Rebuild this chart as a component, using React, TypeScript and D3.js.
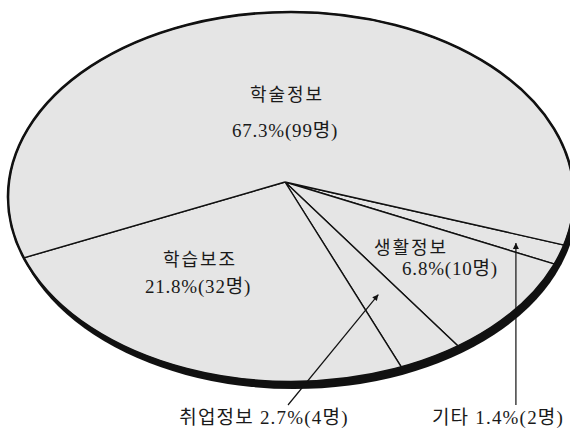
import React, { useEffect, useRef } from 'react';
import * as d3 from 'd3';

// slices in clockwise order, starting at the right-hand edge
const categories = ['기타', '생활정보', '취업정보', '학습보조', '학술정보'];
const counts = [2, 10, 4, 32, 99];
const percents = [1.4, 6.8, 2.7, 21.8, 67.3];

const W = 570;
const H = 434;

// the pie is drawn as a tilted disc (ellipse + a bit of perspective)
const cx = 291, cy = 197, rx = 283, ry = 185;
const hub = { x: 285, y: 182 };
const tilt = 0.15;
const tiltDir = (-30 * Math.PI) / 180;
const startAngle = (116 * Math.PI) / 180;

const FONT = "'Liberation Serif', 'Noto Sans CJK KR', serif";

// text placement (inside labels have two lines, outside ones have an arrow)
const insideLabels: Record<string, { x: number; y: number; x2: number; y2: number }> = {
    학술정보: { x: 287, y: 101, x2: 285, y2: 137 },
    학습보조: { x: 200, y: 266, x2: 198, y2: 293 },
    생활정보: { x: 411, y: 254, x2: 450, y2: 275 },
};
const outsideLabels: Record<string, { x: number; y: number; tail: [number, number] | null; t: number }> = {
    취업정보: { x: 264, y: 424, tail: [288, 405], t: 0.64 },
    기타: { x: 498, y: 424, tail: null, t: 0.84 },
};

const App = () => {
    const ref = useRef<SVGSVGElement>(null);

    useEffect(() => {
        const svg = d3.select(ref.current);
        svg.selectAll('*').remove();

        const k = (1 - tilt) / (1 + tilt);
        const rim = (theta: number): [number, number] => {
            let p = theta - tiltDir;
            p = Math.atan2(Math.sin(p), Math.cos(p));
            const q = 2 * Math.atan(k * Math.tan(p / 2)) + tiltDir;
            return [cx + rx * Math.sin(q), cy - ry * Math.cos(q)];
        };

        const data = categories.map((c, i) => ({ name: c, count: counts[i], pct: percents[i] }));
        const arcs = d3.pie<any>()
            .sort(null)
            .value(d => d.count)
            .startAngle(startAngle)
            .endAngle(startAngle + Math.PI * 2)(data);

        const defs = svg.append('defs');
        defs.append('marker')
            .attr('id', 'head')
            .attr('viewBox', '0 0 10 10')
            .attr('refX', 10)
            .attr('refY', 5)
            .attr('markerWidth', 12)
            .attr('markerHeight', 6)
            .attr('markerUnits', 'userSpaceOnUse')
            .attr('orient', 'auto')
            .append('path')
            .attr('d', 'M0,0 L10,5 L0,10 Z')
            .attr('fill', '#111');

        // heavy lower rim
        svg.append('ellipse')
            .attr('cx', cx + 3).attr('cy', cy + 7)
            .attr('rx', rx).attr('ry', ry)
            .attr('fill', '#111');

        svg.append('ellipse')
            .attr('cx', cx).attr('cy', cy)
            .attr('rx', rx).attr('ry', ry)
            .attr('fill', '#e5e5e5');

        const line = d3.line();
        svg.selectAll('path.slice')
            .data(arcs)
            .enter()
            .append('path')
            .attr('class', 'slice')
            .attr('d', a => {
                const pts: [number, number][] = [[hub.x, hub.y]];
                const n = 60;
                for (let j = 0; j <= n; j++) {
                    pts.push(rim(a.startAngle + (a.endAngle - a.startAngle) * j / n));
                }
                pts.push([hub.x, hub.y]);
                return line(pts);
            })
            .attr('fill', '#e5e5e5')
            .attr('stroke', '#111')
            .attr('stroke-width', 1.4)
            .attr('stroke-linejoin', 'round');

        svg.append('ellipse')
            .attr('cx', cx).attr('cy', cy)
            .attr('rx', rx).attr('ry', ry)
            .attr('fill', 'none')
            .attr('stroke', '#111')
            .attr('stroke-width', 2.6);

        // labels inside the pie
        arcs.filter(a => insideLabels[a.data.name]).forEach(a => {
            const L = insideLabels[a.data.name];
            svg.append('text')
                .attr('x', L.x).attr('y', L.y)
                .attr('text-anchor', 'middle')
                .attr('font-family', FONT)
                .attr('font-size', 18)
                .attr('letter-spacing', 2)
                .attr('fill', '#1a1a1a')
                .text(a.data.name);
            svg.append('text')
                .attr('x', L.x2).attr('y', L.y2)
                .attr('text-anchor', 'middle')
                .attr('font-family', FONT)
                .attr('font-size', 19)
                .attr('letter-spacing', 0.8)
                .attr('fill', '#1a1a1a')
                .text(`${a.data.pct}%(${a.data.count}명)`);
        });

        // small slices: label below with an arrow into the slice
        arcs.filter(a => outsideLabels[a.data.name]).forEach(a => {
            const L = outsideLabels[a.data.name];
            const mid = rim((a.startAngle + a.endAngle) / 2);
            const tip: [number, number] = [
                hub.x + (mid[0] - hub.x) * L.t,
                hub.y + (mid[1] - hub.y) * L.t,
            ];
            const tail = L.tail ?? [tip[0], 405];
            svg.append('line')
                .attr('x1', tail[0]).attr('y1', tail[1])
                .attr('x2', tip[0]).attr('y2', tip[1])
                .attr('stroke', '#111')
                .attr('stroke-width', 1.2)
                .attr('marker-end', 'url(#head)');
            svg.append('text')
                .attr('x', L.x).attr('y', L.y)
                .attr('text-anchor', 'middle')
                .attr('font-family', FONT)
                .attr('font-size', 19)
                .attr('letter-spacing', 1.2)
                .attr('fill', '#1a1a1a')
                .text(`${a.data.name} ${a.data.pct}%(${a.data.count}명)`);
        });
    }, []);

    return (
        <svg
            ref={ref}
            width={W}
            height={H}
            style={{ position: 'absolute', left: 0, top: 0, background: '#fff' }}
        />
    );
};

export default App;
